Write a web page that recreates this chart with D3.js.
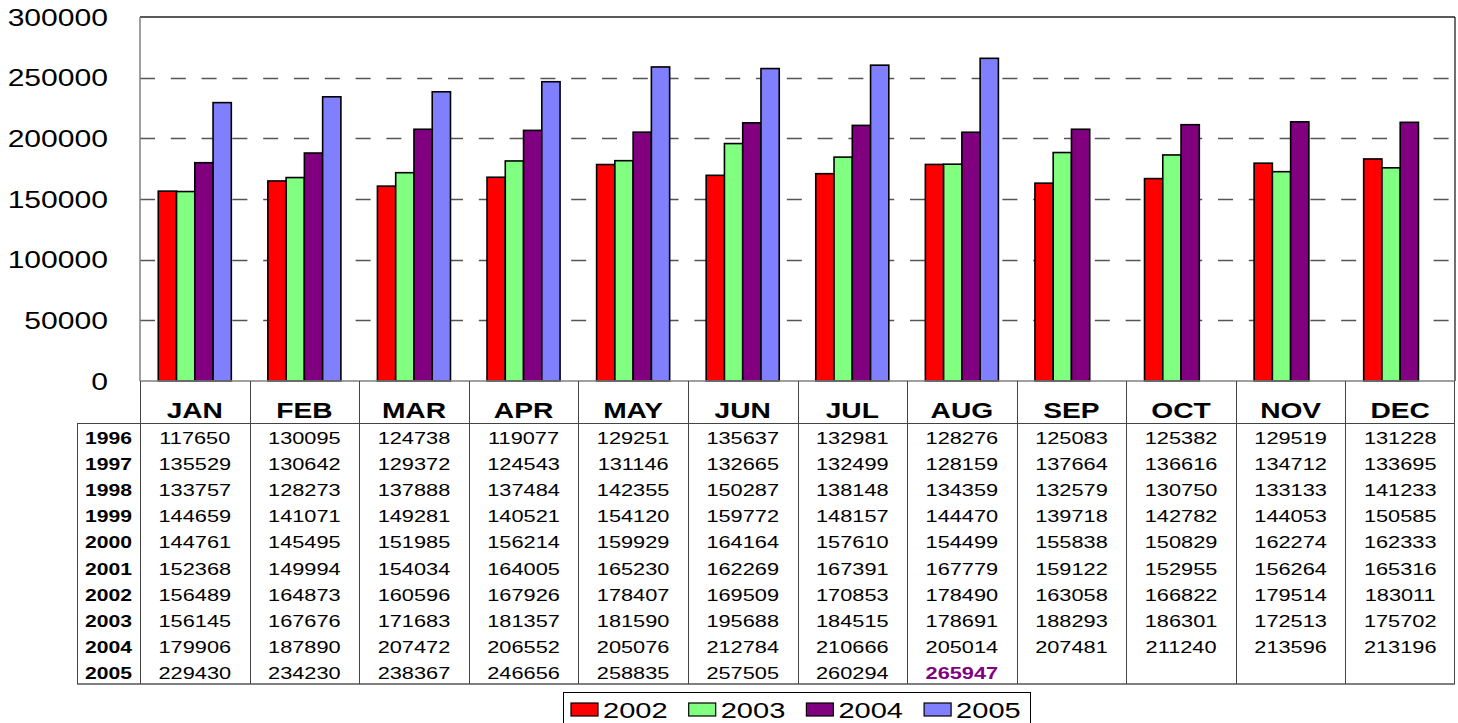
<!DOCTYPE html>
<html>
<head>
<meta charset="utf-8">
<script src="https://cdn.jsdelivr.net/npm/d3@7"></script>
<style>
  html, body { margin: 0; padding: 0; background: #fff; }
  svg { display: block; font-family: "Liberation Sans", Arial, sans-serif; }
</style>
</head>
<body>
<svg id="chart" width="1458" height="723"></svg>
<script>
// Monthly totals by year
const months = ["JAN","FEB","MAR","APR","MAY","JUN","JUL","AUG","SEP","OCT","NOV","DEC"];
const tableYears = ["1996","1997","1998","1999","2000","2001","2002","2003","2004","2005"];
const v1996 = [117650,130095,124738,119077,129251,135637,132981,128276,125083,125382,129519,131228];
const v1997 = [135529,130642,129372,124543,131146,132665,132499,128159,137664,136616,134712,133695];
const v1998 = [133757,128273,137888,137484,142355,150287,138148,134359,132579,130750,133133,141233];
const v1999 = [144659,141071,149281,140521,154120,159772,148157,144470,139718,142782,144053,150585];
const v2000 = [144761,145495,151985,156214,159929,164164,157610,154499,155838,150829,162274,162333];
const v2001 = [152368,149994,154034,164005,165230,162269,167391,167779,159122,152955,156264,165316];
const v2002 = [156489,164873,160596,167926,178407,169509,170853,178490,163058,166822,179514,183011];
const v2003 = [156145,167676,171683,181357,181590,195688,184515,178691,188293,186301,172513,175702];
const v2004 = [179906,187890,207472,206552,205076,212784,210666,205014,207481,211240,213596,213196];
const v2005 = [229430,234230,238367,246656,258835,257505,260294,265947,null,null,null,null];
const tableRows = [v1996,v1997,v1998,v1999,v2000,v2001,v2002,v2003,v2004,v2005];

const seriesNames = ["2002","2003","2004","2005"];
const seriesValues = [v2002, v2003, v2004, v2005];
const seriesColors = ["#FF0000","#80FF80","#800080","#8080FF"];
const yTicks = [0,50000,100000,150000,200000,250000,300000];

// Layout
const plotLeft = 140, plotRight = 1455, plotTop = 17, plotBottom = 381;
const headerBottom = 423, rowH = 26.1, tableLeft = 77;
const SX = 1.28; // horizontal text stretch
const font = '"Liberation Sans", Arial, sans-serif';

const svg = d3.select("#chart");

const x = d3.scaleBand().domain(months).range([plotLeft, plotRight]).padding(0);
const bw = x.bandwidth();
const xs = d3.scaleBand().domain(seriesNames).range([bw / 6, bw * 5 / 6]).padding(0);
const y = d3.scaleLinear().domain([0, 300000]).range([plotBottom, plotTop]);

function stretchedText(parent, px, py, str, opts) {
  const t = parent.append("text")
    .attr("transform", `translate(${px},${py}) scale(${opts.sx || SX},1)`)
    .attr("text-anchor", opts.anchor || "middle")
    .attr("font-size", opts.size)
    .attr("font-weight", opts.weight || "normal")
    .attr("fill", opts.fill || "#000")
    .style("font-family", font)
    .text(str);
  return t;
}

// Dashed gridlines
const grid = svg.append("g");
grid.selectAll("line").data(yTicks.filter(d => d > 0 && d < 300000)).join("line")
  .attr("x1", plotLeft).attr("x2", plotRight)
  .attr("y1", d => Math.round(y(d)) + 0.5).attr("y2", d => Math.round(y(d)) + 0.5)
  .attr("stroke", "#555").attr("stroke-width", 1.3)
  .attr("stroke-dasharray", "15,15.8");

// Plot frame: top and right in black, left and baseline in gray
svg.append("line").attr("x1", plotLeft).attr("x2", plotRight)
  .attr("y1", plotTop).attr("y2", plotTop).attr("stroke", "#222").attr("stroke-width", 1.5);
svg.append("line").attr("x1", plotRight).attr("x2", plotRight)
  .attr("y1", plotTop).attr("y2", plotBottom).attr("stroke", "#222").attr("stroke-width", 1.3);

// Bars
const groups = svg.append("g").selectAll("g").data(seriesNames).join("g")
  .attr("fill", (d, i) => seriesColors[i]);
groups.each(function(name, si) {
  const vals = seriesValues[si];
  d3.select(this).selectAll("rect")
    .data(months.map((m, mi) => ({ m, v: vals[mi] })).filter(d => d.v != null))
    .join("rect")
    .attr("x", d => x(d.m) + xs(name))
    .attr("width", xs.bandwidth())
    .attr("y", d => y(d.v))
    .attr("height", d => y(0) - y(d.v))
    .attr("stroke", "#000").attr("stroke-width", 1.6);
});

// Left axis and zero baseline
svg.append("line").attr("x1", plotLeft).attr("x2", plotLeft)
  .attr("y1", plotTop).attr("y2", plotBottom).attr("stroke", "#808080").attr("stroke-width", 1.5);
svg.append("line").attr("x1", plotLeft).attr("x2", plotRight)
  .attr("y1", plotBottom).attr("y2", plotBottom).attr("stroke", "#808080").attr("stroke-width", 1.5);

// Y tick labels
const yAxisG = svg.append("g");
yTicks.forEach(t => {
  stretchedText(yAxisG, 108, y(t) + 8.5, String(t), { size: 23.5, anchor: "end" });
});

// Data table
const table = svg.append("g");
const tableBottom = headerBottom + rowH * tableYears.length;
const lineColor = "#444";
// column separators
months.forEach((m, i) => {
  table.append("line")
    .attr("x1", Math.round(x(m)) + 0.5).attr("x2", Math.round(x(m)) + 0.5)
    .attr("y1", plotBottom).attr("y2", tableBottom)
    .attr("stroke", lineColor).attr("stroke-width", 1);
});
table.append("line").attr("x1", plotRight - 0.5).attr("x2", plotRight - 0.5)
  .attr("y1", plotBottom).attr("y2", tableBottom).attr("stroke", lineColor);
table.append("line").attr("x1", tableLeft + 0.5).attr("x2", tableLeft + 0.5)
  .attr("y1", headerBottom).attr("y2", tableBottom).attr("stroke", lineColor);
table.append("line").attr("x1", tableLeft).attr("x2", plotRight)
  .attr("y1", headerBottom + 0.5).attr("y2", headerBottom + 0.5).attr("stroke", lineColor);
table.append("line").attr("x1", tableLeft).attr("x2", plotRight)
  .attr("y1", tableBottom).attr("y2", tableBottom).attr("stroke", "#555").attr("stroke-width", 1.5);

// month headers
months.forEach(m => {
  stretchedText(table, x(m) + bw / 2, 418, m, { size: 22, weight: "bold" });
});
// rows
tableYears.forEach((yr, ri) => {
  const base = headerBottom + ri * rowH + 21;
  stretchedText(table, 132, base, yr, { size: 16.5, weight: "bold", anchor: "end" });
  tableRows[ri].forEach((v, mi) => {
    if (v == null) return;
    const latest = ri === tableYears.length - 1 && mi === 7;
    stretchedText(table, x(months[mi]) + bw / 2, base, String(v), {
      size: 17,
      weight: latest ? "bold" : "normal",
      fill: latest ? "#800080" : "#000"
    });
  });
});

// Legend
const legend = svg.append("g");
legend.append("rect").attr("x", 563.5).attr("y", 692.5).attr("width", 467).attr("height", 40)
  .attr("fill", "#fff").attr("stroke", "#000").attr("stroke-width", 1);
seriesNames.forEach((name, i) => {
  const lx = 571 + i * 117.7;
  legend.append("rect").attr("x", lx).attr("y", 703).attr("width", 27).attr("height", 13)
    .attr("fill", seriesColors[i]).attr("stroke", "#000").attr("stroke-width", 1.2);
  stretchedText(legend, lx + 32, 717.5, name, { size: 22, anchor: "start", sx: 1.32 });
});
</script>
</body>
</html>
